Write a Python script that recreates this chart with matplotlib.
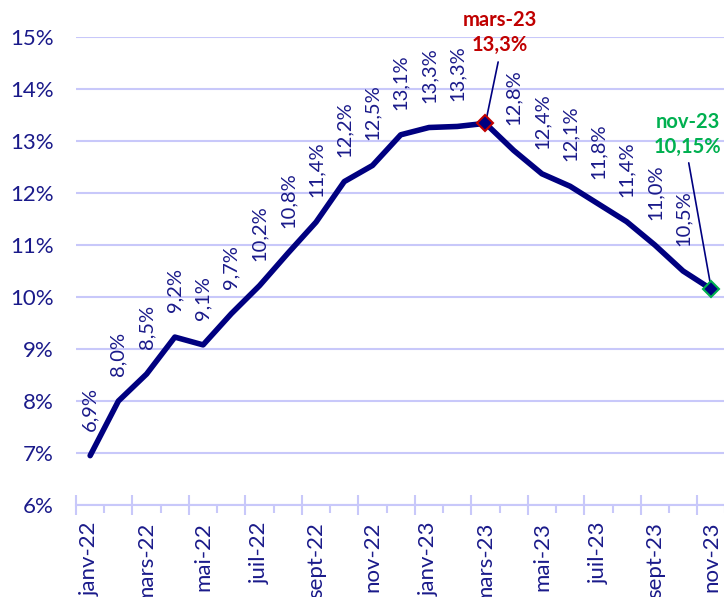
import matplotlib
matplotlib.use("Agg")
import matplotlib.pyplot as plt
from matplotlib.ticker import FixedLocator, NullFormatter, FuncFormatter

plt.rcParams['font.family'] = ['Lato', 'DejaVu Sans']

months = ["janv-22", "févr-22", "mars-22", "avr-22", "mai-22", "juin-22", "juil-22",
          "août-22", "sept-22", "oct-22", "nov-22", "déc-22", "janv-23", "févr-23",
          "mars-23", "avr-23", "mai-23", "juin-23", "juil-23", "août-23", "sept-23",
          "oct-23", "nov-23"]
values = [6.95, 8.0, 8.52, 9.23, 9.08, 9.68, 10.22, 10.84, 11.44, 12.22, 12.53, 13.12,
          13.26, 13.28, 13.34, 12.82, 12.37, 12.13, 11.79, 11.45, 11.0, 10.5, 10.15]
labels = ["6,9%", "8,0%", "8,5%", "9,2%", "9,1%", "9,7%", "10,2%", "10,8%", "11,4%",
          "12,2%", "12,5%", "13,1%", "13,3%", "13,3%", "", "12,8%", "12,4%", "12,1%",
          "11,8%", "11,4%", "11,0%", "10,5%", ""]
peak_idx = 14
last_idx = 22
peak_text = ["mars-23", "13,3%"]
last_text = ["nov-23", "10,15%"]

navy = "#000080"
textc = "#1a1a8a"
grid = "#c8c8fa"
red = "#c00000"
green = "#00b050"

fig = plt.figure(figsize=(7.24, 5.97), dpi=100)
ax = fig.add_axes([0.105, 0.154, 0.897, 0.784])

x = list(range(len(values)))
ax.plot(x, values, color=navy, lw=4, solid_joinstyle='round', solid_capstyle='round', zorder=3)

for i, (v, lab) in enumerate(zip(values, labels)):
    if lab:
        ax.annotate(lab, (i, v), xytext=(0, 18), textcoords='offset points',
                    rotation=90, ha='center', va='bottom', fontsize=14.5, color=textc)

# highlighted points
ax.plot([peak_idx], [values[peak_idx]], marker='D', ms=8, mfc=navy, mec=red, mew=1.5, zorder=4, ls='none')
ax.plot([last_idx], [values[last_idx]], marker='D', ms=8, mfc=navy, mec=green, mew=1.5, zorder=4, ls='none')

px = peak_idx + 0.5
ax.annotate("", xy=(peak_idx, values[peak_idx]), xytext=(peak_idx + 0.45, 14.52),
            arrowprops=dict(arrowstyle='-', color=navy, lw=1.2, shrinkA=0, shrinkB=0))
ax.text(px, 15.33, peak_text[0], ha='center', va='center', fontsize=14.5,
        fontweight='bold', color=red)
ax.text(px, 14.85, peak_text[1], ha='center', va='center', fontsize=14.5,
        fontweight='bold', color=red)

lx = last_idx - 0.83
ax.annotate("", xy=(last_idx, values[last_idx]), xytext=(lx + 0.03, 12.58),
            arrowprops=dict(arrowstyle='-', color=navy, lw=1.2, shrinkA=0, shrinkB=0))
ax.text(lx, 13.37, last_text[0], ha='center', va='center', fontsize=14.5,
        fontweight='bold', color=green)
ax.text(lx, 12.88, last_text[1], ha='center', va='center', fontsize=14.5,
        fontweight='bold', color=green)

ax.set_ylim(6, 15)
ax.set_xlim(-0.5, len(values) - 0.5)
ax.set_yticks(range(6, 16))
ax.yaxis.set_major_formatter(FuncFormatter(lambda v, p: f"{int(v)}%"))
ax.grid(axis='y', color=grid, lw=1.5)
ax.set_axisbelow(True)

ax.xaxis.set_major_locator(FixedLocator([i - 0.5 for i in range(0, len(values) + 1, 2)]))
ax.xaxis.set_minor_locator(FixedLocator([i - 0.5 for i in range(1, len(values) + 1, 2)]))
ax.xaxis.set_major_formatter(NullFormatter())
ax.tick_params(axis='x', which='major', direction='inout', length=14, width=1.5, color=grid)
ax.tick_params(axis='x', which='minor', direction='out', length=6, width=1.5, color=grid)
for i in range(0, len(values), 2):
    ax.text(i, 5.68, months[i], rotation=90, ha='center', va='top', fontsize=16, color=textc)

ax.tick_params(axis='y', length=0, pad=16, labelsize=16, labelcolor=textc)
for s in ['top', 'right', 'left']:
    ax.spines[s].set_visible(False)
ax.spines['bottom'].set_color(grid)
ax.spines['bottom'].set_linewidth(1.5)

fig.savefig("out.png", dpi=100)
